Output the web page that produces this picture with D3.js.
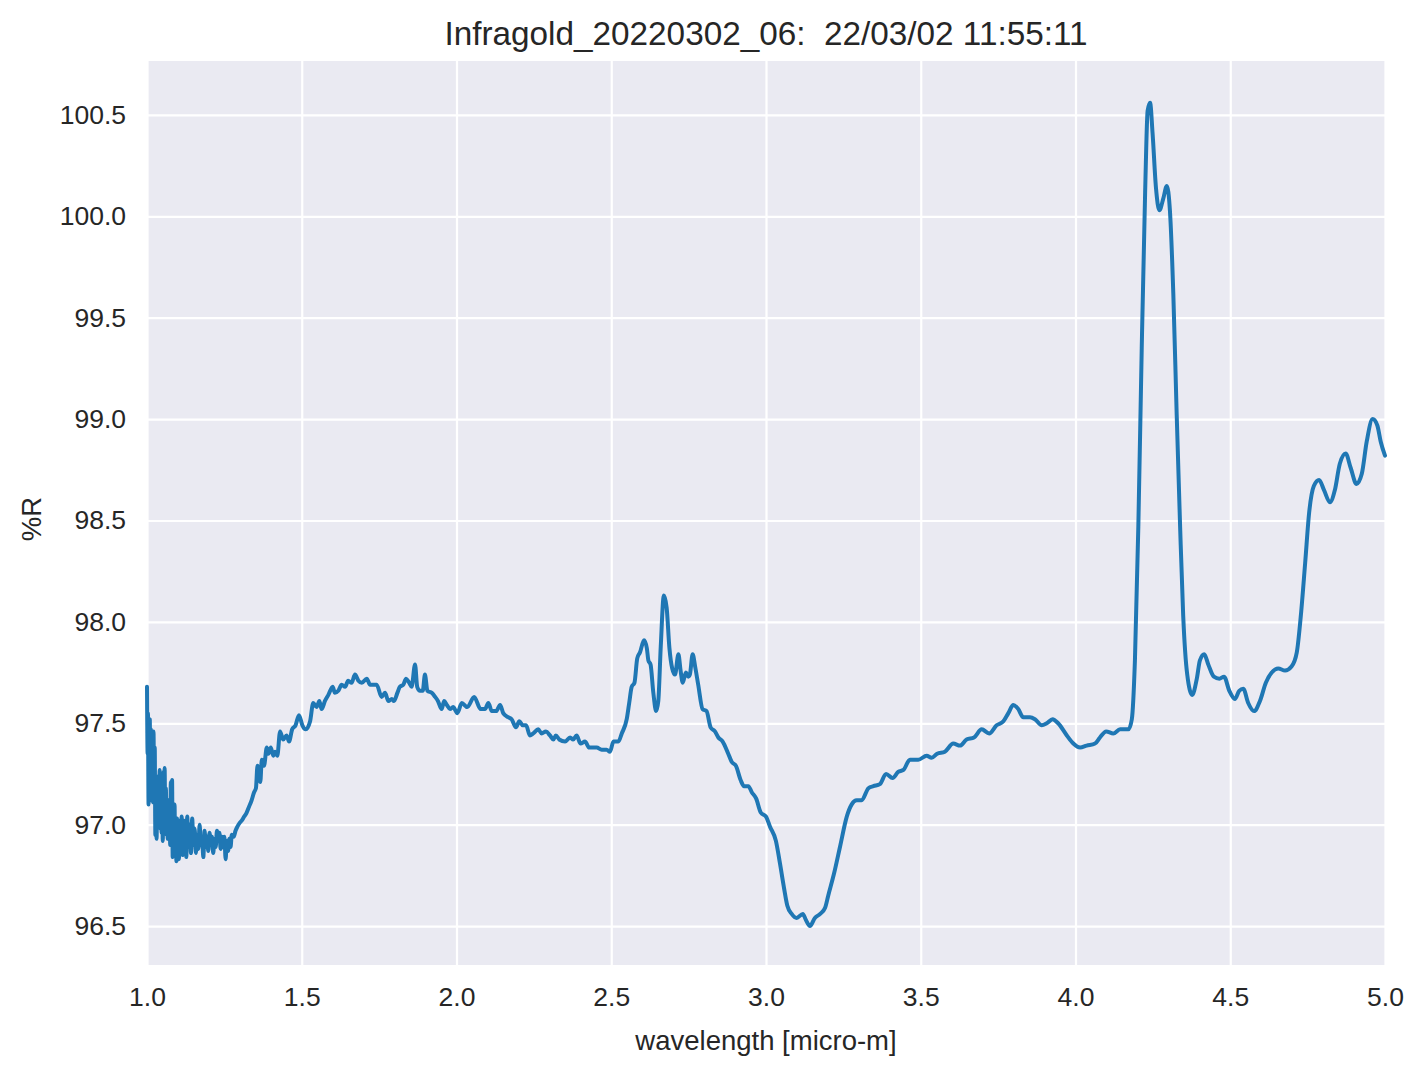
<!DOCTYPE html>
<html>
<head>
<meta charset="utf-8">
<script src="https://cdn.jsdelivr.net/npm/d3@7"></script>
<style>
  body { margin: 0; background: #fff; }
  text { font-family: Arial, "Liberation Sans", sans-serif; fill: #262626; }
</style>
</head>
<body>
<svg id="chart"></svg>
<script>
(function (){
var width = 1425, height = 1069
var svg = d3.select('#chart')
            .attr('width', width)
            .attr('height', height)

var title = 'Infragold_20220302_06:  22/03/02 11:55:11'
var xLabel = 'wavelength [micro-m]'
var yLabel = '%R'
var xTicks = [1.0, 1.5, 2.0, 2.5, 3.0, 3.5, 4.0, 4.5, 5.0]
var yTicks = [96.5, 97.0, 97.5, 98.0, 98.5, 99.0, 99.5, 100.0, 100.5]

// wavelength [micro-m]
var wl = [
    1.000, 1.002, 1.003, 1.005, 1.006, 1.008, 1.009, 1.011, 1.013, 1.015,
    1.017, 1.019, 1.021, 1.023, 1.025, 1.027, 1.029, 1.031, 1.033, 1.035,
    1.037, 1.039, 1.041, 1.043, 1.045, 1.047, 1.049, 1.051, 1.053, 1.055,
    1.057, 1.059, 1.061, 1.063, 1.065, 1.067, 1.069, 1.071, 1.073, 1.075,
    1.077, 1.079, 1.081, 1.083, 1.085, 1.087, 1.089, 1.091, 1.093, 1.095,
    1.097, 1.099, 1.101, 1.103, 1.106, 1.109, 1.112, 1.115, 1.118, 1.121,
    1.124, 1.127, 1.130, 1.134, 1.138, 1.142, 1.146, 1.150, 1.154, 1.158,
    1.162, 1.166, 1.170, 1.174, 1.178, 1.182, 1.186, 1.190, 1.194, 1.198,
    1.202, 1.206, 1.210, 1.214, 1.218, 1.222, 1.226, 1.230, 1.234, 1.238,
    1.242, 1.246, 1.250, 1.254, 1.258, 1.262, 1.266, 1.270, 1.274, 1.280,
    1.286, 1.292, 1.300, 1.306, 1.314, 1.322, 1.330, 1.338, 1.346, 1.352,
    1.357, 1.360, 1.366, 1.371, 1.378, 1.387, 1.392, 1.400, 1.408, 1.414,
    1.421, 1.430, 1.440, 1.451, 1.459, 1.469, 1.480, 1.491, 1.502, 1.513,
    1.527, 1.537, 1.548, 1.557, 1.564, 1.575, 1.586, 1.600, 1.607, 1.618,
    1.629, 1.640, 1.650, 1.661, 1.672, 1.683, 1.694, 1.710, 1.721, 1.742,
    1.758, 1.769, 1.780, 1.791, 1.798, 1.809, 1.817, 1.828, 1.837, 1.847,
    1.855, 1.866, 1.873, 1.882, 1.891, 1.898, 1.906, 1.920, 1.931, 1.940,
    1.952, 1.960, 1.969, 1.979, 1.989, 2.003, 2.017, 2.035, 2.057, 2.078,
    2.092, 2.103, 2.114, 2.128, 2.141, 2.151, 2.167, 2.178, 2.192, 2.203,
    2.214, 2.225, 2.237, 2.248, 2.264, 2.275, 2.289, 2.302, 2.313, 2.321,
    2.332, 2.351, 2.367, 2.377, 2.388, 2.401, 2.415, 2.429, 2.442, 2.453,
    2.469, 2.485, 2.496, 2.507, 2.523, 2.534, 2.550, 2.558, 2.566, 2.575,
    2.584, 2.593, 2.606, 2.615, 2.620, 2.627, 2.636, 2.645, 2.652, 2.660,
    2.670, 2.679, 2.688, 2.697, 2.706, 2.717, 2.724, 2.731, 2.741, 2.749,
    2.754, 2.763, 2.771, 2.781, 2.795, 2.808, 2.821, 2.835, 2.846, 2.860,
    2.878, 2.889, 2.903, 2.918, 2.929, 2.943, 2.954, 2.968, 2.983, 3.000,
    3.013, 3.032, 3.045, 3.058, 3.069, 3.083, 3.099, 3.119, 3.129, 3.142,
    3.158, 3.175, 3.191, 3.201, 3.220, 3.239, 3.261, 3.277, 3.293, 3.309,
    3.331, 3.347, 3.368, 3.388, 3.409, 3.427, 3.444, 3.465, 3.492, 3.519,
    3.535, 3.553, 3.578, 3.605, 3.627, 3.648, 3.672, 3.697, 3.721, 3.745,
    3.767, 3.783, 3.799, 3.815, 3.831, 3.853, 3.869, 3.891, 3.907, 3.926,
    3.944, 3.972, 3.993, 4.015, 4.036, 4.063, 4.079, 4.099, 4.122, 4.144,
    4.171, 4.182, 4.192, 4.203, 4.214, 4.225, 4.233, 4.241, 4.249, 4.260,
    4.271, 4.284, 4.295, 4.305, 4.316, 4.327, 4.338, 4.348, 4.361, 4.377,
    4.392, 4.402, 4.416, 4.429, 4.447, 4.465, 4.480, 4.497, 4.515, 4.529,
    4.542, 4.558, 4.577, 4.596, 4.615, 4.634, 4.655, 4.677, 4.698, 4.715,
    4.728, 4.742, 4.755, 4.770, 4.787, 4.803, 4.822, 4.838, 4.854, 4.873,
    4.889, 4.908, 4.925, 4.941, 4.960, 4.975, 4.986, 5.000
]
// reflectance %R
var pctR = [
    97.68, 97.35, 97.55, 97.10, 97.45, 97.15, 97.52, 97.12, 97.47, 97.14,
    97.43, 97.11, 97.46, 97.20, 97.38, 96.95, 97.20, 96.93, 97.18, 97.00,
    97.24, 97.05, 97.27, 96.98, 97.22, 96.96, 97.15, 96.92, 97.26, 97.02,
    97.28, 96.99, 97.18, 96.95, 97.10, 96.93, 97.12, 96.96, 97.05, 96.90,
    97.21, 96.95, 97.22, 96.84, 97.08, 96.86, 97.10, 96.88, 97.00, 96.82,
    97.03, 96.86, 96.98, 96.83, 97.02, 96.87, 97.04, 96.85, 97.02, 96.86,
    97.00, 96.84, 97.04, 96.89, 97.00, 96.86, 97.03, 96.90, 96.98, 96.86,
    96.95, 96.88, 97.00, 96.90, 96.93, 96.84, 96.97, 96.89, 96.94, 96.87,
    96.96, 96.90, 96.94, 96.86, 96.93, 96.89, 96.97, 96.92, 96.96, 96.88,
    96.94, 96.89, 96.94, 96.83, 96.92, 96.87, 96.93, 96.89, 96.95, 96.94,
    96.97, 96.99, 97.01, 97.02, 97.04, 97.06, 97.09, 97.12, 97.16, 97.18,
    97.29, 97.24, 97.21, 97.32, 97.29, 97.38, 97.35, 97.38, 97.34, 97.36,
    97.34, 97.46, 97.42, 97.44, 97.41, 97.47, 97.49, 97.54, 97.49, 97.47,
    97.51, 97.60, 97.58, 97.61, 97.57, 97.61, 97.64, 97.68, 97.65, 97.66,
    97.69, 97.68, 97.71, 97.70, 97.74, 97.71, 97.70, 97.72, 97.69, 97.69,
    97.63, 97.65, 97.61, 97.62, 97.61, 97.65, 97.68, 97.69, 97.72, 97.70,
    97.68, 97.79, 97.68, 97.66, 97.66, 97.74, 97.66, 97.65, 97.63, 97.61,
    97.57, 97.61, 97.59, 97.57, 97.58, 97.55, 97.60, 97.58, 97.63, 97.57,
    97.57, 97.60, 97.56, 97.56, 97.59, 97.55, 97.53, 97.52, 97.48, 97.51,
    97.49, 97.49, 97.44, 97.45, 97.47, 97.45, 97.46, 97.44, 97.42, 97.44,
    97.42, 97.41, 97.43, 97.42, 97.44, 97.40, 97.41, 97.38, 97.38, 97.38,
    97.37, 97.37, 97.36, 97.41, 97.41, 97.45, 97.52, 97.60, 97.68, 97.70,
    97.82, 97.85, 97.91, 97.87, 97.81, 97.79, 97.65, 97.56, 97.61, 97.88,
    98.13, 98.07, 97.87, 97.77, 97.74, 97.84, 97.76, 97.70, 97.75, 97.73,
    97.74, 97.84, 97.78, 97.69, 97.57, 97.56, 97.48, 97.46, 97.43, 97.41,
    97.35, 97.31, 97.29, 97.22, 97.19, 97.19, 97.16, 97.13, 97.06, 97.04,
    96.99, 96.92, 96.81, 96.69, 96.60, 96.56, 96.54, 96.56, 96.53, 96.50,
    96.54, 96.56, 96.59, 96.65, 96.76, 96.89, 97.04, 97.10, 97.12, 97.12,
    97.18, 97.19, 97.20, 97.25, 97.23, 97.26, 97.27, 97.32, 97.32, 97.34,
    97.33, 97.35, 97.36, 97.40, 97.39, 97.42, 97.43, 97.47, 97.45, 97.49,
    97.51, 97.55, 97.59, 97.57, 97.53, 97.53, 97.52, 97.49, 97.50, 97.52,
    97.50, 97.44, 97.40, 97.38, 97.39, 97.40, 97.43, 97.46, 97.45, 97.47,
    97.47, 97.52, 97.81, 98.47, 99.35, 100.12, 100.52, 100.56, 100.41, 100.14,
    100.03, 100.09, 100.15, 100.03, 99.62, 99.02, 98.47, 98.03, 97.74, 97.64,
    97.72, 97.81, 97.84, 97.79, 97.73, 97.72, 97.73, 97.66, 97.62, 97.66,
    97.67, 97.60, 97.56, 97.61, 97.70, 97.75, 97.77, 97.76, 97.78, 97.85,
    98.03, 98.29, 98.54, 98.67, 98.70, 98.65, 98.59, 98.65, 98.78, 98.83,
    98.76, 98.68, 98.73, 98.89, 99.00, 98.97, 98.89, 98.82
]

var data = wl.map((w, i) => ({w: w, r: pctR[i]}))

var margin = {left: 147, right: 40, top: 61, bottom: 104}
var plotW = width - margin.left - margin.right
var plotH = height - margin.top - margin.bottom

var x = d3.scaleLinear().domain([1.0, 5.0]).range([0, plotW])
var y = d3.scaleLinear().domain([96.308, 100.766]).range([plotH, 0])

var g = svg.append('g')
    .attr('transform', 'translate(' + margin.left + ',' + margin.top + ')')

// seaborn darkgrid background
g.append('rect')
    .attr('width', plotW)
    .attr('height', plotH)
    .attr('fill', '#eaeaf2')

var xAxis = g.append('g')
    .attr('transform', 'translate(0,' + plotH + ')')
    .call(d3.axisBottom(x).tickValues(xTicks).tickFormat(d3.format('.1f'))
        .tickSize(-plotH).tickPadding(22))
var yAxis = g.append('g')
    .call(d3.axisLeft(y).tickValues(yTicks).tickFormat(d3.format('.1f'))
        .tickSize(-plotW).tickPadding(21))

;[xAxis, yAxis].forEach(function (a){
    a.select('.domain').remove()
    a.selectAll('.tick line')
        .attr('stroke', '#fff')
        .attr('stroke-width', 2.2)
    a.selectAll('.tick text')
        .style('font-size', '26.5px')
        .attr('fill', '#262626')
})

g.append('path')
    .datum(data)
    .attr('fill', 'none')
    .attr('stroke', '#1f77b4')
    .attr('stroke-width', 4)
    .attr('stroke-linejoin', 'round')
    .attr('stroke-linecap', 'round')
    .attr('d', d3.line()
        .x((d) => x(d.w))
        .y((d) => y(d.r))
        .curve(d3.curveMonotoneX))

svg.append('text')
    .attr('x', margin.left + plotW / 2)
    .attr('y', 45)
    .attr('text-anchor', 'middle')
    .style('font-size', '33.3px')
    .style('white-space', 'pre')
    .text(title)

svg.append('text')
    .attr('x', margin.left + plotW / 2)
    .attr('y', 1050)
    .attr('text-anchor', 'middle')
    .style('font-size', '27.5px')
    .text(xLabel)

svg.append('text')
    .attr('transform', 'translate(41,' + (margin.top + plotH / 2 + 6) + ') rotate(-90)')
    .attr('text-anchor', 'middle')
    .style('font-size', '27.5px')
    .text(yLabel)
})();
</script>
</body>
</html>
